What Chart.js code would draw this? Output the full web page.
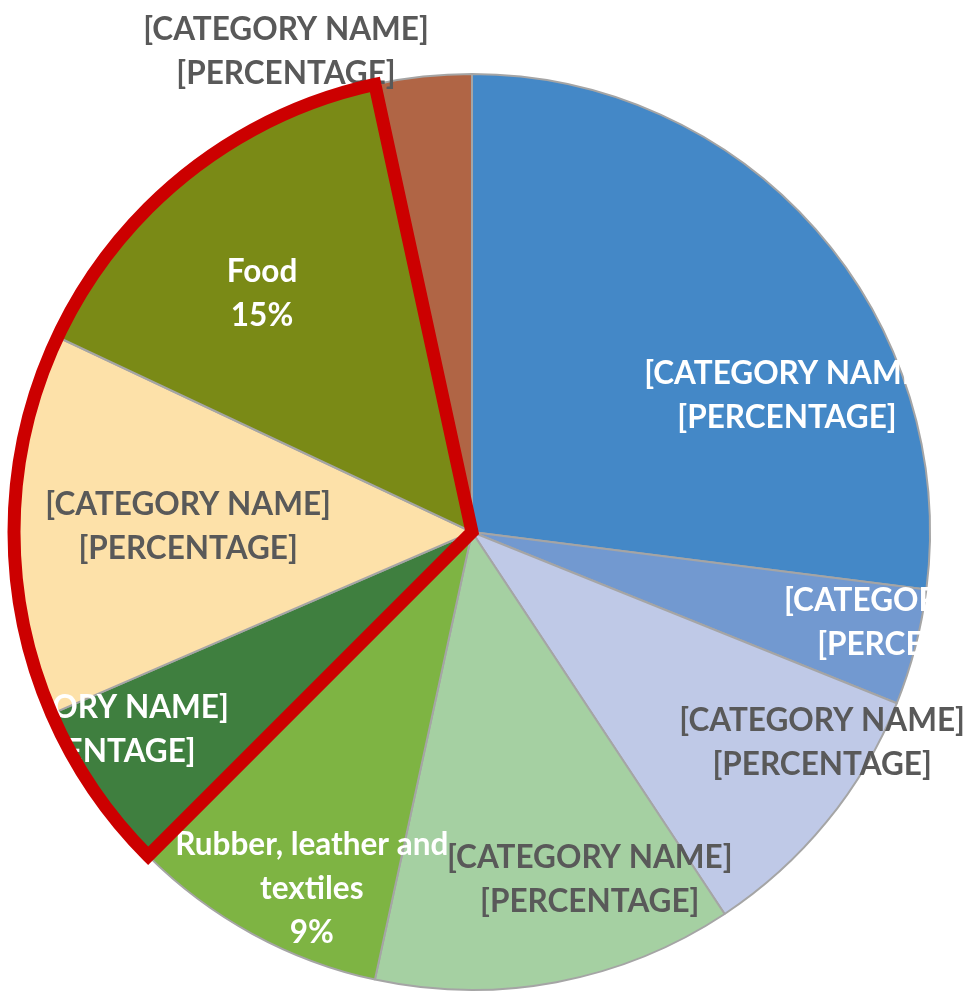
<!DOCTYPE html>
<html>
<head>
<meta charset="utf-8">
<script src="https://cdn.jsdelivr.net/npm/chart.js@4/dist/chart.umd.min.js"></script>
<style>
  html, body { margin: 0; padding: 0; background: #fff; }
  #wrap { width: 967px; height: 992px; position: relative; }
</style>
</head>
<body>
<div id="wrap"><canvas id="chart"></canvas></div>
<script>
"use strict";

// slices, clockwise from 12 o'clock
const categories = [
  "[CATEGORY NAME]",
  "[CATEGORY NAME]",
  "[CATEGORY NAME]",
  "[CATEGORY NAME]",
  ["Rubber, leather and", "textiles"],
  "[CATEGORY NAME]",
  "[CATEGORY NAME]",
  "Food",
  "[CATEGORY NAME]",
];
const shares = [27.0, 4.1, 9.6, 12.7, 9.1, 6.0, 13.5, 14.6, 3.4];
const valueLabels = [
  "[PERCENTAGE]",
  "[PERCENTAGE]",
  "[PERCENTAGE]",
  "[PERCENTAGE]",
  "9%",
  "[PERCENTAGE]",
  "[PERCENTAGE]",
  "15%",
  "[PERCENTAGE]",
];
const sliceColors = [
  "#4488C7", "#7299D0", "#BFC9E7", "#A5D0A2", "#7EB443",
  "#3F7F3F", "#FDE1A9", "#7A8A16", "#B06545",
];
const labelColors = [
  "#FFFFFF", "#FFFFFF", "#595959", "#595959", "#FFFFFF",
  "#FFFFFF", "#595959", "#FFFFFF", "#595959",
];
// label anchor: angle (deg, clockwise from top) and distance (fraction of radius)
const labelAngles = [66.3, 101.1, 120.8, 161.2, 204.3, 243.1, 271.4, 318.8, 338.9];
const labelRadii = [0.751, 1.012, 0.89, 0.798, 0.85, 0.945, 0.62, 0.696, 1.128];
// slices wrapped by the red outline
const outlined = [5, 6, 7];

const LINE_HEIGHT = 44;
const CAP_HALF = 12;

const sliceLabels = {
  id: "sliceLabels",
  afterDatasetsDraw(chart) {
    const ctx = chart.ctx;
    const arcs = chart.getDatasetMeta(0).data;
    ctx.save();
    ctx.font = "bold 31.5px Lato";
    ctx.textAlign = "center";
    ctx.textBaseline = "alphabetic";
    arcs.forEach((arc, i) => {
      const p = arc.getProps(["x", "y", "outerRadius"], true);
      const a = ((labelAngles[i] - 90) * Math.PI) / 180;
      const cx = p.x + Math.cos(a) * p.outerRadius * labelRadii[i];
      const cy = p.y + Math.sin(a) * p.outerRadius * labelRadii[i];
      const name = categories[i];
      const lines = (Array.isArray(name) ? name : [name]).concat(valueLabels[i]);
      const top = cy - ((lines.length - 1) * LINE_HEIGHT) / 2;
      ctx.fillStyle = labelColors[i];
      lines.forEach((t, k) => ctx.fillText(t, cx, top + k * LINE_HEIGHT + CAP_HALF));
    });
    ctx.restore();
  },
};

const groupOutline = {
  id: "groupOutline",
  afterDraw(chart) {
    const ctx = chart.ctx;
    const arcs = chart.getDatasetMeta(0).data;
    const props = ["x", "y", "startAngle", "endAngle", "outerRadius"];
    const first = arcs[outlined[0]].getProps(props, true);
    const last = arcs[outlined[outlined.length - 1]].getProps(props, true);
    ctx.save();
    ctx.beginPath();
    ctx.moveTo(first.x, first.y);
    ctx.arc(first.x, first.y, first.outerRadius, first.startAngle, last.endAngle);
    ctx.closePath();
    ctx.lineWidth = 13;
    ctx.lineJoin = "miter";
    ctx.strokeStyle = "#CC0000";
    ctx.stroke();
    ctx.restore();
  },
};

new Chart(document.getElementById("chart"), {
  type: "pie",
  data: {
    labels: categories,
    datasets: [
      {
        data: shares,
        backgroundColor: sliceColors,
        borderColor: "#A5A5A5",
        borderWidth: 2,
      },
    ],
  },
  options: {
    responsive: true,
    maintainAspectRatio: false,
    animation: false,
    layout: { padding: { left: 13, right: 36, top: 73, bottom: 1 } },
    plugins: {
      legend: { display: false },
      tooltip: { enabled: false },
    },
  },
  plugins: [sliceLabels, groupOutline],
});
</script>
</body>
</html>
